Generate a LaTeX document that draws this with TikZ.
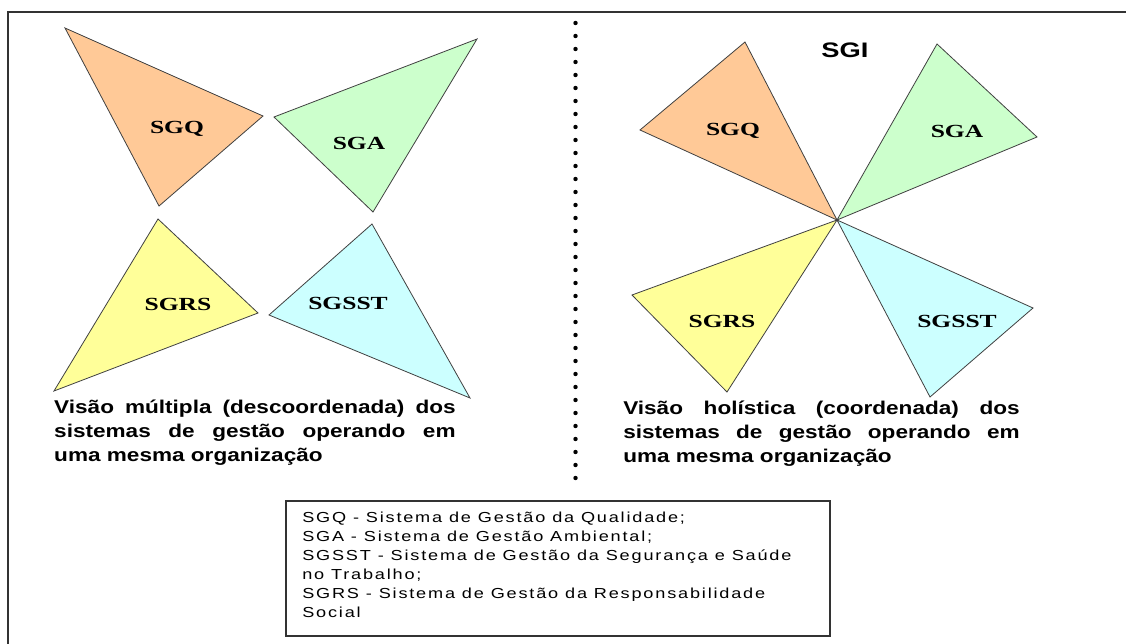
\documentclass[tikz,border=0pt]{standalone}
\usepackage{fontspec}
\setmainfont{Liberation Serif}
\newfontfamily\arialf{Liberation Sans}
\newfontfamily\legf[LetterSpace=10]{Liberation Sans}
\definecolor{cq}{HTML}{FFC997}
\definecolor{ca}{HTML}{CCFFCC}
\definecolor{crs}{HTML}{FFFF99}
\definecolor{cst}{HTML}{CCFFFF}
\definecolor{frame}{HTML}{333333}
\begin{document}
\begin{tikzpicture}[x=1pt,y=-1pt,
  tri/.style={draw=black!75, line width=0.8pt, line join=miter},
  tlabel/.style={inner sep=0pt, font=\bfseries\fontsize{18.5}{20}\selectfont, transform shape, xscale=1.38},
  caption/.style={inner sep=0pt, anchor=north west, align=justify, font=\arialf\bfseries\fontsize{18.5}{24}\selectfont, transform shape, xscale=1.22},
  legtext/.style={inner sep=0pt, anchor=north west, align=left, font=\legf\fontsize{14.5}{19}\selectfont, transform shape, xscale=1.25}]
\useasboundingbox (0,0) rectangle (1126,644);
\fill[white] (0,0) rectangle (1126,644);
% frame
\draw[frame, line width=1.8pt] (8,650) -- (8,12) -- (1130,12);
% dotted separator
\foreach \i in {0,...,35} \fill (575.5,23+13*\i) circle (2.2);
% left: separate triangles
\filldraw[tri, fill=cq] (65,28) -- (263,116) -- (159,206) -- cycle;
\filldraw[tri, fill=ca] (477,39) -- (274,117) -- (373,212) -- cycle;
\filldraw[tri, fill=crs] (158,219) -- (258,313) -- (54,391) -- cycle;
\filldraw[tri, fill=cst] (372,224) -- (269,315) -- (470,398) -- cycle;
\node[tlabel] (lq) at (177,129) {SGQ};
\node[tlabel] (la) at (359,143) {SGA};
\node[tlabel] (lrs) at (178,304) {SGRS};
\node[tlabel] (lst) at (348,303) {SGSST};
% right: joined triangles
\coordinate (c) at (837,220);
\filldraw[tri, fill=cq] (c) -- (745,42) -- (640,130) -- cycle;
\filldraw[tri, fill=ca] (c) -- (937,44) -- (1037,137) -- cycle;
\filldraw[tri, fill=crs] (c) -- (632,295) -- (727,392) -- cycle;
\filldraw[tri, fill=cst] (c) -- (1033,308) -- (930,397) -- cycle;
\node[tlabel] (rq) at (733,131) {SGQ};
\node[tlabel] (ra) at (957,131) {SGA};
\node[tlabel] (rrs) at (722,321) {SGRS};
\node[tlabel] (rst) at (957,321) {SGSST};
\node[inner sep=0pt, font=\arialf\bfseries\fontsize{21}{24}\selectfont, transform shape, xscale=1.3] (sgi) at (845,50) {SGI};
% captions
\node[caption, text width=329pt] (capl) at (54,400) {Visão múltipla (descoordenada) dos\linebreak sistemas de gestão operando em\linebreak uma mesma organização};
\node[caption, text width=325pt] (capr) at (623,401) {Visão holística (coordenada) dos\linebreak sistemas de gestão operando em\linebreak uma mesma organização};
% legend
\draw[frame, line width=1.2pt] (286,501) rectangle (830,636);
\node[legtext] (leg) at (302,512) {SGQ - Sistema de Gestão da Qualidade;\\SGA - Sistema de Gestão Ambiental;\\SGSST - Sistema de Gestão da Segurança e Saúde\\no Trabalho;\\SGRS - Sistema de Gestão da Responsabilidade\\Social};
\end{tikzpicture}
\end{document}
